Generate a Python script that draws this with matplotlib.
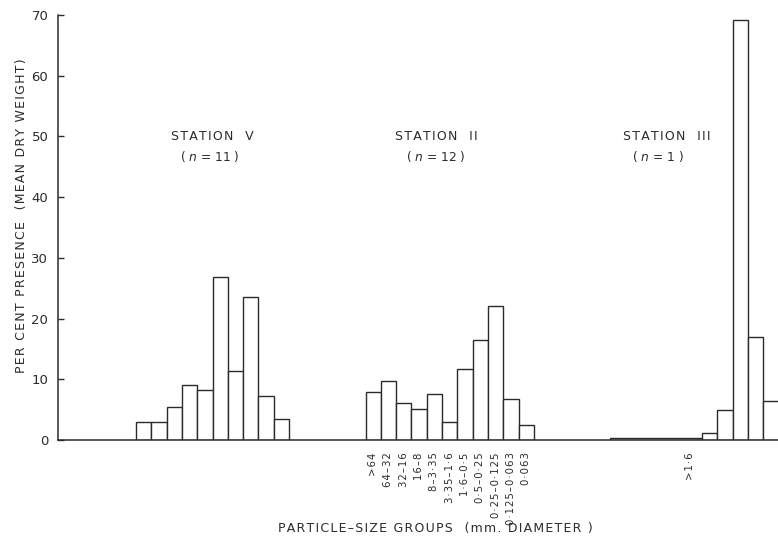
import numpy as np
import matplotlib
matplotlib.use("Agg")
import matplotlib.pyplot as plt

plt.rcParams['font.family'] = ['DejaVu Sans']
plt.rcParams['mathtext.fontset'] = 'dejavusans'

# mean per cent dry weight in each particle-size group
station_v = [3.0, 3.0, 5.5, 9.0, 8.2, 26.8, 11.4, 23.5, 7.3, 3.5]
station_ii = [7.9, 9.8, 6.1, 5.1, 7.6, 3.0, 11.7, 16.5, 22.0, 6.7, 2.5]
station_iii_coarse = 0.4          # all groups > 1.6 mm lumped together
station_iii = [1.1, 5.0, 69.2, 16.9, 6.5]

size_groups = ['>64', '64\u201332', '32\u201316', '16\u20138', '8\u20133\u00b735',
               '3\u00b735\u20131\u00b76', '1\u00b76\u20130\u00b75', '0\u00b75\u20130\u00b725',
               '0\u00b725\u20130\u00b7125', '0\u00b7125\u20130\u00b7063', '0\u00b7063']
coarse_label = '>1\u00b76'

stations = ['STATION  V', 'STATION  II', 'STATION  III']
n_samples = [11, 12, 1]

ink = '#2b2b2b'


def spaced(s):
    # stencil lettering is set wide: put a hair space between characters
    return '\u200a'.join(s)


fig = plt.figure(figsize=(7.78, 5.41), dpi=100)
ax = fig.add_axes([0.0746, 0.1867, 0.9254, 0.7855])

# bin index where each station's histogram starts
start_v, start_ii, start_iii = 0, 15, 31
coarse_bins = 6


def draw_hist(start, values):
    x = start + np.arange(len(values))
    ax.bar(x, values, width=1.0, align='edge', facecolor='white',
           edgecolor=ink, linewidth=1.0)
    return x


draw_hist(start_v, station_v)
x_ii = draw_hist(start_ii, station_ii)
ax.bar(start_iii, station_iii_coarse, width=coarse_bins, align='edge',
       facecolor='white', edgecolor=ink, linewidth=1.0)
draw_hist(start_iii + coarse_bins, station_iii)

ax.set_xlim(-5.1, 41.96)
ax.set_ylim(0, 70)

for s in ['top', 'right']:
    ax.spines[s].set_visible(False)
for s in ['left', 'bottom']:
    ax.spines[s].set_color(ink)
    ax.spines[s].set_linewidth(1.1)

ax.set_yticks(np.arange(0, 71, 10))
ax.tick_params(axis='y', direction='in', length=4, width=1.0, colors=ink,
               labelsize=9.5, pad=7)

# size-group names under station II and the lumped group of station III
ax.set_xticks(list(x_ii + 0.5) + [start_iii + 5.2])
ax.set_xticklabels([spaced(s) for s in size_groups + [coarse_label]],
                   rotation=90, fontsize=7.3, color=ink, va='top', ha='center')
ax.tick_params(axis='x', length=0, pad=9)

ax.set_ylabel(spaced('PER CENT PRESENCE  (MEAN DRY WEIGHT)'), fontsize=9,
              color=ink, va='center')
ax.yaxis.set_label_coords(-0.051, 0.529)
ax.set_xlabel(spaced('PARTICLE\u2013SIZE GROUPS  (mm. DIAMETER )'), fontsize=9,
              color=ink, va='center')
ax.xaxis.set_label_coords(0.524, -0.209)

# station headings: (heading x, sample-size x) in pixels
centres = [(212, 210), (436, 436), (667, 658)]
for name, n, (cx1, cx2) in zip(stations, n_samples, centres):
    fig.text(cx1 / 778, 1 - 137 / 541, spaced(name), ha='center', va='center',
             fontsize=9, color=ink)
    fig.text(cx2 / 778, 1 - 157 / 541, '( $n$ = %d )' % n, ha='center',
             va='center', fontsize=8.8, color=ink)

fig.savefig('out.png', dpi=100, facecolor='white')
